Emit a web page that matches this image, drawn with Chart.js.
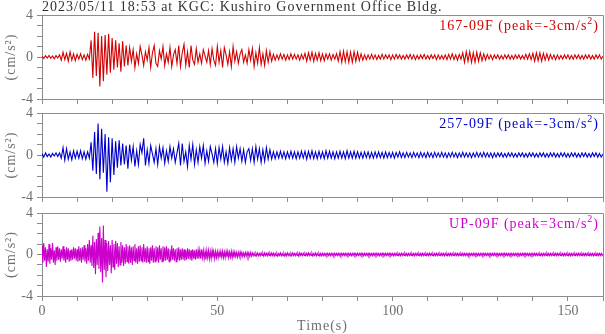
<!DOCTYPE html>
<html>
<head>
<meta charset="utf-8">
<script src="https://cdn.jsdelivr.net/npm/chart.js@4.4.1/dist/chart.umd.min.js"></script>
<style>
  body { margin: 0; background: #fff; width: 605px; height: 334px; position: relative; overflow: hidden; }
  canvas { position: absolute; left: 0; top: 0; }
</style>
</head>
<body>
<canvas id="ew" width="605" height="334"></canvas>
<canvas id="ns" width="605" height="334"></canvas>
<canvas id="ud" width="605" height="334"></canvas>
<script>
// ─────────────────────────────────────────────
// DATA  (acceleration, cm/s^2)
// ─────────────────────────────────────────────
const TITLE = '2023/05/11 18:53 at KGC: Kushiro Government Office Bldg.';
const X_TICK_LABELS = [0, 50, 100, 150];
const Y_TICK_LABELS = [-4, 0, 4];

// 167-09F, sampled every 0.5 s
const DT_EW = 0.5;
const EW = [
  0.1,-0.15,0.12,-0.1,0.15,-0.12,0.1,-0.18,0.14,-0.1,
  0.2,-0.3,0.45,-0.25,0.35,-0.4,0.5,-0.3,0.3,-0.35,
  0.25,-0.2,0.3,-0.25,0.2,-0.3,0.25,-0.2,1.6,-2.0,
  2.4,-1.8,2.3,-2.8,2.0,-2.3,2.1,-1.7,2.2,-1.5,
  1.8,-1.2,1.6,-1.0,1.3,-1.4,1.5,-0.9,1.1,-0.8,
  0.9,-0.4,0.7,-1.0,0.3,-0.6,1.0,0.2,-0.8,0.5,
  -0.3,0.9,-1.0,0.4,1.1,-0.6,-0.9,0.6,-0.2,1.0,
  -0.8,0.3,-0.5,0.9,-0.9,0.2,0.7,-0.6,1.1,-0.9,
  0.4,1.2,-0.8,0.5,-1.0,1.1,-0.3,-0.7,0.8,-0.5,
  0.3,-0.6,0.7,0.1,-0.5,0.6,-0.7,0.8,-0.3,-0.8,
  1.0,-0.5,0.6,-1.0,0.9,0.2,-0.7,0.5,-0.9,1.0,
  -0.4,0.5,-0.6,0.3,0.7,-0.5,0.2,-0.6,0.7,-0.3,
  0.8,-0.9,0.4,-0.6,0.9,-0.7,0.3,-0.8,0.6,-0.5,
  0.5,-0.4,0.25,-0.3,0.2,-0.25,0.3,-0.2,0.25,-0.3,
  0.2,-0.25,0.3,-0.2,0.25,-0.2,0.2,-0.3,0.25,-0.2,
  0.35,-0.4,0.4,-0.3,0.45,-0.4,0.35,-0.3,0.4,-0.35,
  0.3,-0.35,0.3,-0.2,0.3,-0.3,0.25,-0.2,0.3,-0.4,
  0.5,-0.5,0.55,-0.45,0.5,-0.5,0.45,-0.5,0.5,-0.4,
  0.45,-0.35,0.3,-0.3,0.2,-0.25,0.2,-0.2,0.25,-0.2,
  0.2,-0.25,0.15,-0.2,0.25,-0.2,0.2,-0.15,0.2,-0.25,
  0.2,-0.2,0.25,-0.15,0.2,-0.2,0.15,-0.2,0.2,-0.15,
  0.25,-0.2,0.2,-0.25,0.15,-0.2,0.2,-0.15,0.25,-0.2,
  0.15,-0.2,0.2,-0.15,0.2,-0.25,0.2,-0.2,0.15,-0.2,
  0.2,-0.25,0.25,-0.2,0.3,-0.25,0.2,-0.3,0.25,-0.2,
  0.4,-0.5,0.5,-0.4,0.5,-0.5,0.4,-0.5,0.45,-0.4,
  0.4,-0.35,0.3,-0.3,0.25,-0.2,0.2,-0.25,0.2,-0.15,
  0.2,-0.2,0.15,-0.2,0.2,-0.15,0.2,-0.2,0.15,-0.2,
  0.2,-0.15,0.2,-0.2,0.15,-0.2,0.25,-0.2,0.3,-0.25,
  0.35,-0.4,0.4,-0.35,0.4,-0.4,0.35,-0.3,0.3,-0.3,
  0.25,-0.2,0.2,-0.25,0.2,-0.2,0.15,-0.2,0.2,-0.15,
  0.2,-0.2,0.15,-0.2,0.2,-0.15,0.2,-0.2,0.15,-0.2,
  0.2,-0.15,0.2,-0.2,0.15,-0.2,0.2,-0.15,0.2,-0.2,
  0.1
];

// 257-09F, sampled every 0.5 s
const DT_NS = 0.5;
const NS = [
  0.15,-0.2,0.2,-0.15,0.1,-0.2,0.15,-0.1,0.2,-0.15,
  0.2,-0.3,0.7,-0.5,0.6,-0.4,0.3,-0.45,0.4,-0.3,
  0.35,-0.3,0.4,-0.35,0.3,-0.4,0.3,-0.3,1.2,-1.5,
  2.2,-1.8,3.0,-2.3,2.5,-1.7,2.0,-3.5,1.7,-2.6,
  1.6,-1.9,1.3,-1.2,1.4,-1.0,1.1,-0.9,0.9,-1.3,
  1.0,-0.5,0.8,-1.1,0.4,-0.9,1.0,0.2,1.6,-1.0,
  0.5,-0.8,0.9,0.1,-0.7,0.6,-0.9,0.8,-0.3,0.7,
  -0.8,0.4,-0.6,0.8,-0.3,0.6,-0.7,0.2,1.1,-1.0,
  1.1,-0.6,0.3,-1.1,0.9,-0.4,1.0,-0.9,0.5,-0.7,
  0.8,-0.3,0.9,-0.8,0.4,-0.6,0.8,0.1,-0.7,0.6,
  -0.8,0.7,-0.4,0.8,-0.7,0.3,-0.8,0.7,-0.5,0.6,
  -0.7,0.8,-0.3,0.6,-0.6,0.5,-0.7,0.3,0.6,-0.5,
  0.6,-0.7,0.8,-0.4,0.6,-0.7,0.5,-0.6,0.7,-0.4,
  0.5,-0.4,0.3,-0.35,0.3,-0.3,0.35,-0.3,0.3,-0.35,
  0.3,-0.3,0.35,-0.3,0.3,-0.35,0.3,-0.3,0.35,-0.3,
  0.35,-0.4,0.35,-0.3,0.4,-0.35,0.3,-0.35,0.35,-0.3,
  0.3,-0.35,0.4,-0.3,0.35,-0.3,0.3,-0.35,0.3,-0.3,
  0.35,-0.3,0.3,-0.35,0.4,-0.3,0.3,-0.3,0.35,-0.3,
  0.3,-0.3,0.25,-0.3,0.3,-0.25,0.3,-0.3,0.25,-0.3,
  0.3,-0.25,0.3,-0.25,0.25,-0.3,0.3,-0.25,0.25,-0.25,
  0.25,-0.3,0.25,-0.2,0.3,-0.25,0.2,-0.25,0.25,-0.2,
  0.2,-0.25,0.25,-0.2,0.2,-0.25,0.25,-0.2,0.2,-0.25,
  0.25,-0.2,0.2,-0.25,0.25,-0.2,0.2,-0.2,0.25,-0.2,
  0.2,-0.25,0.2,-0.2,0.25,-0.2,0.2,-0.25,0.2,-0.2,
  0.25,-0.2,0.2,-0.2,0.2,-0.25,0.2,-0.2,0.25,-0.2,
  0.2,-0.2,0.25,-0.2,0.2,-0.2,0.2,-0.25,0.2,-0.2,
  0.2,-0.15,0.2,-0.2,0.15,-0.2,0.2,-0.15,0.2,-0.2,
  0.15,-0.2,0.2,-0.15,0.2,-0.2,0.15,-0.2,0.2,-0.15,
  0.2,-0.2,0.15,-0.2,0.2,-0.15,0.2,-0.2,0.15,-0.2,
  0.2,-0.15,0.2,-0.2,0.15,-0.2,0.2,-0.15,0.2,-0.2,
  0.15,-0.2,0.2,-0.15,0.2,-0.2,0.15,-0.2,0.2,-0.15,
  0.2,-0.2,0.15,-0.2,0.2,-0.15,0.2,-0.2,0.15,-0.2,
  0.1
];

// UP-09F, sampled every 0.25 s
const DT_UD = 0.25;
const UD = [
  0.9,-0.8,1.1,-0.6,0.7,-1.2,0.5,-0.7,1.0,-0.9,0.6,-0.5,1.1,-0.8,0.4,-1.0,0.7,-0.6,0.8,-0.5,
  0.6,-0.7,0.5,-0.4,0.8,-0.6,0.5,-0.8,0.7,-0.5,0.6,-0.7,0.4,-0.6,0.5,-0.5,0.7,-0.4,0.6,-0.6,
  0.5,-0.7,0.8,-0.6,0.6,-0.8,0.7,-0.5,0.9,-0.7,0.6,-0.9,1.0,-0.6,1.4,-0.8,0.9,-1.1,1.8,-1.3,
  1.2,-1.9,1.5,-1.0,2.1,-1.4,2.7,-1.7,1.6,-2.7,2.8,-1.5,1.4,-2.2,1.1,-1.6,1.3,-1.0,0.9,-1.8,
  1.4,-1.2,1.0,-1.5,1.3,-0.9,1.1,-1.2,0.8,-1.0,1.2,-0.8,0.9,-1.1,0.7,-0.9,1.0,-0.7,0.8,-0.9,
  0.9,-0.8,0.7,-1.0,0.8,-0.6,1.0,-0.8,0.6,-0.9,0.8,-0.7,0.9,-0.6,0.7,-0.8,1.0,-0.7,0.6,-0.8,
  0.8,-0.7,0.6,-0.9,0.7,-0.6,0.9,-0.8,0.6,-0.7,0.8,-0.6,0.7,-0.8,0.9,-0.5,0.6,-0.7,0.8,-0.6,
  0.7,-0.6,0.8,-0.5,0.6,-0.7,0.5,-0.6,0.9,-0.5,0.6,-0.6,0.5,-0.7,0.6,-0.5,0.7,-0.6,0.5,-0.5,
  0.6,-0.5,0.5,-0.6,0.4,-0.5,0.6,-0.4,0.5,-0.5,0.4,-0.6,0.5,-0.4,0.4,-0.5,0.5,-0.4,0.4,-0.4,
  0.4,-0.4,0.5,-0.3,0.4,-0.4,0.3,-0.5,0.4,-0.3,0.4,-0.4,0.3,-0.4,0.4,-0.3,0.3,-0.4,0.3,-0.3,
  0.3,-0.3,0.25,-0.3,0.3,-0.25,0.3,-0.3,0.25,-0.3,0.3,-0.25,0.3,-0.3,0.25,-0.25,0.3,-0.3,0.25,-0.3,
  0.25,-0.2,0.2,-0.25,0.2,-0.2,0.25,-0.2,0.2,-0.2,0.15,-0.2,0.2,-0.15,0.2,-0.2,0.15,-0.2,0.2,-0.15,
  0.15,-0.12,0.12,-0.15,0.12,-0.1,0.15,-0.12,0.1,-0.12,0.15,-0.1,0.12,-0.15,0.15,-0.1,0.12,-0.12,0.15,-0.1,
  0.12,-0.12,0.15,-0.1,0.12,-0.15,0.1,-0.12,0.12,-0.15,0.1,-0.1,0.15,-0.12,0.1,-0.12,0.12,-0.15,0.1,-0.12,
  0.15,-0.1,0.1,-0.15,0.1,-0.1,0.15,-0.1,0.1,-0.12,0.12,-0.1,0.1,-0.15,0.15,-0.1,0.1,-0.1,0.12,-0.1,
  0.1,-0.12,0.12,-0.1,0.15,-0.1,0.1,-0.1,0.12,-0.15,0.1,-0.1,0.15,-0.12,0.1,-0.1,0.1,-0.15,0.1,-0.12,
  0.12,-0.1,0.1,-0.12,0.1,-0.1,0.12,-0.1,0.1,-0.12,0.12,-0.1,0.1,-0.12,0.12,-0.1,0.1,-0.1,0.12,-0.1,
  0.1,-0.12,0.12,-0.1,0.1,-0.1,0.12,-0.12,0.1,-0.1,0.12,-0.1,0.1,-0.12,0.1,-0.1,0.12,-0.1,0.1,-0.12,
  0.12,-0.1,0.1,-0.1,0.12,-0.1,0.1,-0.12,0.12,-0.1,0.1,-0.1,0.12,-0.12,0.1,-0.1,0.1,-0.12,0.12,-0.1,
  0.1,-0.1,0.12,-0.1,0.1,-0.12,0.1,-0.1,0.12,-0.1,0.1,-0.12,0.12,-0.1,0.1,-0.1,0.12,-0.1,0.1,-0.1,
  0.1,-0.12,0.1,-0.1,0.12,-0.1,0.1,-0.1,0.1,-0.12,0.12,-0.1,0.1,-0.1,0.12,-0.1,0.1,-0.12,0.1,-0.1,
  0.12,-0.1,0.1,-0.1,0.1,-0.12,0.1,-0.1,0.12,-0.1,0.1,-0.1,0.1,-0.12,0.12,-0.1,0.1,-0.1,0.1,-0.1,
  0.1,-0.1,0.12,-0.1,0.1,-0.1,0.1,-0.12,0.1,-0.1,0.12,-0.1,0.1,-0.1,0.1,-0.1,0.12,-0.1,0.1,-0.12,
  0.1,-0.1,0.1,-0.12,0.1,-0.1,0.12,-0.1,0.1,-0.1,0.1,-0.1,0.12,-0.1,0.1,-0.12,0.1,-0.1,0.1,-0.1,
  0.12,-0.1,0.1,-0.1,0.1,-0.1,0.1,-0.12,0.1,-0.1,0.1,-0.1,0.12,-0.1,0.1,-0.1,0.1,-0.12,0.1,-0.1,
  0.1,-0.1,0.1,-0.1,0.12,-0.1,0.1,-0.1,0.1,-0.1,0.1,-0.12,0.1,-0.1,0.1,-0.1,0.12,-0.1,0.1,-0.1,
  0.1,-0.12,0.1,-0.1,0.1,-0.1,0.1,-0.1,0.12,-0.1,0.1,-0.1,0.1,-0.12,0.1,-0.1,0.1,-0.1,0.1,-0.1,
  0.1,-0.1,0.1,-0.1,0.1,-0.12,0.1,-0.1,0.1,-0.1,0.12,-0.1,0.1,-0.1,0.1,-0.1,0.1,-0.12,0.1,-0.1,
  0.1,-0.1,0.12,-0.1,0.1,-0.1,0.1,-0.1,0.1,-0.1,0.1,-0.12,0.1,-0.1,0.1,-0.1,0.12,-0.1,0.1,-0.1,
  0.1,-0.1,0.1,-0.1,0.1,-0.1,0.12,-0.1,0.1,-0.1,0.1,-0.1,0.1,-0.1,0.1,-0.12,0.1,-0.1,0.1,-0.1,
  0.1,-0.1,0.1,-0.12,0.1,-0.1,0.1,-0.1,0.1,-0.1,0.1,-0.1,0.12,-0.1,0.1,-0.1,0.1,-0.1,0.1,-0.1,
  0.1,-0.1,0.1,-0.1,0.1,-0.1,0.1,-0.1,0.1,-0.12,0.1,-0.1,0.1,-0.1,0.1,-0.1,0.1,-0.1,0.1,-0.1,
  0.05
];

// ─────────────────────────────────────────────
// STYLE
// ─────────────────────────────────────────────
const FONT = 'Liberation Serif';
const AXIS_COLOR = '#8c8c8c';
const LABEL_COLOR = '#6e6e6e';
const W = 605, H = 334;

// Panel text with a raised "2" in cm/s2
function drawLegend(ctx, area, color, before) {
  const after = ')';
  const sup = '2';
  ctx.save();
  ctx.letterSpacing = '1px';
  ctx.fillStyle = color;
  ctx.textBaseline = 'alphabetic';
  ctx.textAlign = 'left';
  ctx.font = `14px ${FONT}`;
  const wAfter = ctx.measureText(after).width;
  const wBefore = ctx.measureText(before).width;
  ctx.font = `10px ${FONT}`;
  const wSup = ctx.measureText(sup).width;
  const right = area.right - 4;
  const base = area.top + 15;
  let x = right - wAfter - wSup - wBefore;
  ctx.font = `14px ${FONT}`;
  ctx.fillText(before, x, base);
  x += wBefore;
  ctx.font = `10px ${FONT}`;
  ctx.fillText(sup, x, base - 6);
  x += wSup;
  ctx.font = `14px ${FONT}`;
  ctx.fillText(after, x, base);
  ctx.restore();
}

function makePanel(id, values, dt, color, legend, areaTop, areaBottom, bottomPanel) {
  const points = values.map((v, i) => ({ x: i * dt, y: v }));
  const xHeight = bottomPanel ? H - areaBottom : 6;

  const framePlugin = {
    id: 'frame_' + id,
    afterDraw(chart) {
      const { ctx, chartArea: a } = chart;
      ctx.save();
      ctx.strokeStyle = AXIS_COLOR;
      ctx.lineWidth = 1;
      ctx.beginPath();
      ctx.moveTo(a.left, a.top + 0.5);
      ctx.lineTo(a.right + 0.5, a.top + 0.5);
      ctx.lineTo(a.right + 0.5, a.bottom);
      ctx.stroke();

      // y axis title, slightly letter-spaced like the original
      ctx.letterSpacing = '1px';
      ctx.fillStyle = LABEL_COLOR;
      ctx.font = `14px ${FONT}`;
      ctx.textAlign = 'center';
      ctx.textBaseline = 'middle';
      ctx.translate(11, (a.top + a.bottom) / 2);
      ctx.rotate(-Math.PI / 2);
      ctx.fillText('(cm/s²)', 0, 0);
      ctx.restore();

      drawLegend(ctx, a, color, legend);

      ctx.save();
      ctx.letterSpacing = '1px';
      ctx.font = `14px ${FONT}`;
      ctx.textBaseline = 'middle';
      if (id === 'ew') {
        ctx.fillStyle = '#333';
        ctx.textAlign = 'left';
        ctx.fillText(TITLE, a.left, 7);
      }
      if (bottomPanel) {
        ctx.fillStyle = LABEL_COLOR;
        ctx.textAlign = 'center';
        ctx.fillText('Time(s)', (a.left + a.right) / 2, 326);
      }
      ctx.restore();
    }
  };

  return new Chart(document.getElementById(id).getContext('2d'), {
    type: 'line',
    data: {
      datasets: [{
        data: points,
        borderColor: color,
        borderWidth: 1.1,
        pointRadius: 0,
        tension: 0,
        fill: false
      }]
    },
    options: {
      responsive: false,
      animation: false,
      events: [],
      layout: {
        padding: { left: 0, right: W - 603, top: areaTop, bottom: H - areaBottom - xHeight }
      },
      plugins: { legend: { display: false }, tooltip: { enabled: false } },
      scales: {
        x: {
          type: 'linear',
          min: 0,
          max: 160,
          afterFit: s => { s.height = xHeight; },
          border: { display: true, color: AXIS_COLOR },
          grid: { drawOnChartArea: false, drawTicks: true, tickLength: 5, color: AXIS_COLOR },
          ticks: {
            stepSize: 10,
            autoSkip: false,
            maxRotation: 0,
            padding: 2,
            color: LABEL_COLOR,
            font: { family: FONT, size: 14 },
            callback: v => (bottomPanel && X_TICK_LABELS.includes(v) ? v : '')
          }
        },
        y: {
          min: -4,
          max: 4,
          afterFit: s => { s.width = 42; },
          border: { display: true, color: AXIS_COLOR },
          grid: { drawOnChartArea: false, drawTicks: true, tickLength: 5, color: AXIS_COLOR },
          ticks: {
            stepSize: 1,
            autoSkip: false,
            padding: 4,
            color: LABEL_COLOR,
            font: { family: FONT, size: 14 },
            callback: v => (Y_TICK_LABELS.includes(v) ? v : '')
          }
        }
      }
    },
    plugins: [framePlugin]
  });
}

makePanel('ew', EW, DT_EW, '#d20000', '167-09F (peak=-3cm/s', 15, 99, false);
makePanel('ns', NS, DT_NS, '#0000cc', '257-09F (peak=-3cm/s', 113, 197, false);
makePanel('ud', UD, DT_UD, '#cc00cc', 'UP-09F (peak=3cm/s', 213, 296, true);
</script>
</body>
</html>
